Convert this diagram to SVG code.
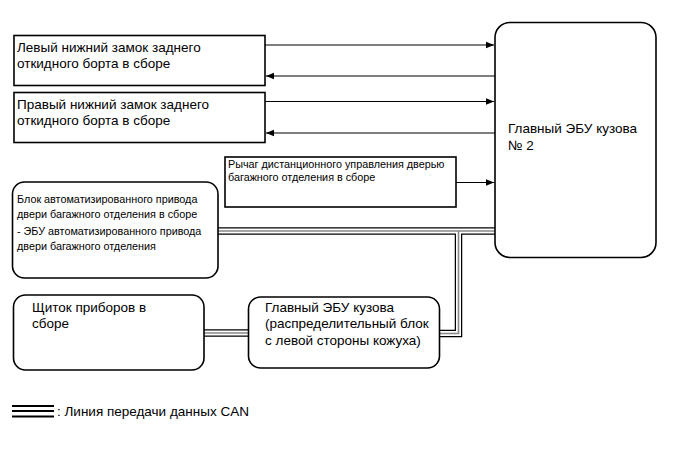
<svg xmlns="http://www.w3.org/2000/svg" width="690" height="464" viewBox="0 0 690 464">
<style>
.box{fill:#fff;stroke:#000;stroke-width:1.6}
.t{font-family:"Liberation Sans",Arial,sans-serif;font-size:13.5px;fill:#000}
.s{font-family:"Liberation Sans",Arial,sans-serif;font-size:10.8px;fill:#000}
.ln{fill:none;stroke:#000;stroke-width:1.2}
.c1{fill:none;stroke:#000;stroke-width:7.5}
.c2{fill:none;stroke:#fff;stroke-width:5}
.c3{fill:none;stroke:#888;stroke-width:1.6}
</style>
<defs>
<marker id="ah" viewBox="0 0 10 10" refX="10" refY="5" markerWidth="10" markerHeight="8" markerUnits="userSpaceOnUse" orient="auto">
<path d="M0,1 L10,5 L0,9 z" fill="#000"/>
</marker>
</defs>
<rect width="690" height="464" fill="#fff"/>
<g id="connectors">
<line class="ln" x1="265" y1="45" x2="494" y2="45" marker-end="url(#ah)"/>
<line class="ln" x1="495" y1="76" x2="266" y2="76" marker-end="url(#ah)"/>
<line class="ln" x1="265" y1="101.5" x2="494" y2="101.5" marker-end="url(#ah)"/>
<line class="ln" x1="495" y1="133" x2="266" y2="133" marker-end="url(#ah)"/>
<line class="ln" x1="456" y1="182.5" x2="494" y2="182.5" marker-end="url(#ah)"/>
<g id="can">
<path class="c1" d="M218,231 H495 M458.5,231 V333.5 H440 M204,333 H248"/>
<path class="c2" d="M218,231 H495 M458.5,231 V333.5 H440 M204,333 H248"/>
<path class="c3" d="M218,231 H495 M458.5,231 V333.5 H440 M204,333 H248"/>
</g>
</g>
<g id="left-lock">
<rect class="box" x="14" y="35.5" width="251" height="50"/>
<text class="t" x="17" y="52">Левый нижний замок заднего</text>
<text class="t" x="17" y="68">откидного борта в сборе</text>
</g>
<g id="right-lock">
<rect class="box" x="14" y="92.5" width="251" height="50"/>
<text class="t" x="17" y="109">Правый нижний замок заднего</text>
<text class="t" x="17" y="125">откидного борта в сборе</text>
</g>
<g id="lever">
<rect class="box" x="225" y="157" width="231" height="50"/>
<text class="s" x="228" y="168">Рычаг дистанционного управления дверью</text>
<text class="s" x="228" y="181">багажного отделения в сборе</text>
</g>
<g id="main-ecu-2">
<rect class="box" x="495" y="22.5" width="161" height="235" rx="15"/>
<text class="t" x="508" y="133">Главный ЭБУ кузова</text>
<text class="t" x="508" y="150">№ 2</text>
</g>
<g id="power-door">
<rect class="box" x="12.5" y="182" width="205.5" height="96" rx="12"/>
<text class="s" x="17" y="203">Блок автоматизированного привода</text>
<text class="s" x="17" y="218">двери багажного отделения в сборе</text>
<text class="s" x="17" y="235">- ЭБУ автоматизированного привода</text>
<text class="s" x="17" y="250">двери багажного отделения</text>
</g>
<g id="meter">
<rect class="box" x="13.5" y="295" width="190.5" height="75" rx="12"/>
<text class="t" x="32" y="312">Щиток приборов в</text>
<text class="t" x="32" y="328">сборе</text>
</g>
<g id="main-body-ecu">
<rect class="box" x="248.5" y="297" width="191" height="71" rx="12"/>
<text class="t" x="265" y="312">Главный ЭБУ кузова</text>
<text class="t" x="265" y="328">(распределительный блок</text>
<text class="t" x="265" y="345">с левой стороны кожуха)</text>
</g>
<g id="legend">
<line x1="12" y1="406" x2="54" y2="406" stroke="#000" stroke-width="2"/>
<line x1="12" y1="411" x2="54" y2="411" stroke="#000" stroke-width="2"/>
<line x1="12" y1="416.5" x2="54" y2="416.5" stroke="#000" stroke-width="2"/>
<text class="t" x="57" y="416">: Линия передачи данных CAN</text>
</g>
</svg>
